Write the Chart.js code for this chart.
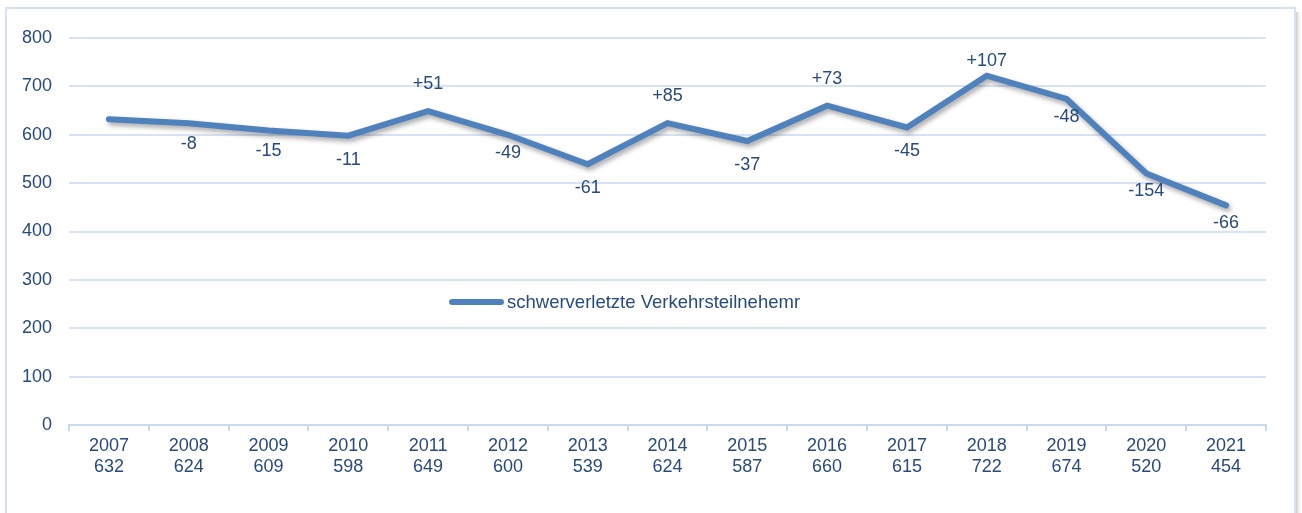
<!DOCTYPE html>
<html>
<head>
<meta charset="utf-8">
<script src="https://cdn.jsdelivr.net/npm/chart.js@4.4.0/dist/chart.umd.min.js"></script>
<style>
html,body{margin:0;padding:0;background:#fff;}
#wrap{width:1302px;height:513px;position:relative;}
</style>
</head>
<body>
<div id="wrap"><canvas id="c" width="1302" height="513"></canvas></div>
<script>
const years = ['2007','2008','2009','2010','2011','2012','2013','2014','2015','2016','2017','2018','2019','2020','2021'];
const values = [632,624,609,598,649,600,539,624,587,660,615,722,674,520,454];
const changes = ['', '-8','-15','-11','+51','-49','-61','+85','-37','+73','-45','+107','-48','-154','-66'];
const yTicks = [0,100,200,300,400,500,600,700,800];
const seriesName = 'schwerverletzte Verkehrsteilnehemr';

const TXT = '#284a7c';
const FONT = '"Liberation Sans", Arial, sans-serif';
const LINE = '#4f81bd';

const framePlugin = {
  id: 'frame',
  beforeDraw(chart) {
    const ctx = chart.ctx;
    ctx.save();
    ctx.fillStyle = '#fff';
    ctx.fillRect(0,0,chart.width,chart.height);
    const g = ctx.createLinearGradient(1295,0,1302,0);
    g.addColorStop(0,'rgba(120,120,120,0.55)');
    g.addColorStop(1,'rgba(255,255,255,0)');
    ctx.fillStyle = g;
    ctx.fillRect(1295,12,7,chart.height);
    ctx.strokeStyle = '#d5e2f3';
    ctx.lineWidth = 2;
    ctx.strokeRect(6,8,1289,520);
    ctx.restore();
  }
};

const shadowPlugin = {
  id: 'lineShadow',
  beforeDatasetDraw(chart) {
    const ctx = chart.ctx;
    ctx.save();
    ctx.shadowColor = 'rgba(0,0,0,0.35)';
    ctx.shadowBlur = 5;
    ctx.shadowOffsetX = 2;
    ctx.shadowOffsetY = 3;
  },
  afterDatasetDraw(chart) {
    chart.ctx.restore();
  }
};

const labelPlugin = {
  id: 'diffLabels',
  afterDatasetsDraw(chart) {
    const ctx = chart.ctx;
    const meta = chart.getDatasetMeta(0);
    const top = chart.chartArea.top;
    ctx.save();
    ctx.font = '18px ' + FONT;
    ctx.fillStyle = TXT;
    ctx.textAlign = 'center';
    ctx.textBaseline = 'middle';
    meta.data.forEach((pt, i) => {
      const t = changes[i];
      if (!t) return;
      const up = t.startsWith('+');
      const prev = values[i - 1], next = values[i + 1];
      let y;
      if (up) {
        y = Math.max(pt.y - 27, top + 23);
      } else {
        const valley = next !== undefined && values[i] < prev && values[i] < next;
        const steep = prev !== undefined && (prev - values[i]) > 45;
        y = pt.y + (valley ? 24 : (steep ? 18 : 21));
      }
      ctx.fillText(t, pt.x, y);
    });
    // legend
    const cx = 449, cy = 302;
    ctx.strokeStyle = LINE;
    ctx.lineWidth = 6;
    ctx.lineCap = 'round';
    ctx.beginPath();
    ctx.moveTo(cx + 3, cy);
    ctx.lineTo(cx + 52, cy);
    ctx.stroke();
    ctx.font = '18.5px ' + FONT;
    ctx.textAlign = 'left';
    ctx.fillText(seriesName, 507, cy + 1);
    ctx.restore();
  }
};

new Chart(document.getElementById('c'), {
  type: 'line',
  data: {
    labels: years.map((y, i) => [y, String(values[i])]),
    datasets: [{
      label: seriesName,
      data: values,
      borderColor: LINE,
      borderWidth: 6,
      pointRadius: 0,
      tension: 0,
      borderJoinStyle: 'miter',
      borderCapStyle: 'round',
      fill: false
    }]
  },
  options: {
    responsive: false,
    animation: false,
    devicePixelRatio: 1,
    layout: { padding: { left: 0, right: 36, top: 38, bottom: 0 } },
    plugins: {
      legend: { display: false },
      tooltip: { enabled: false }
    },
    scales: {
      x: {
        offset: true,
        grid: {
          offset: true,
          drawOnChartArea: false,
          drawTicks: true,
          tickLength: 6,
          color: '#c9daef',
          lineWidth: 2
        },
        border: { display: true, color: '#c9daef', width: 2 },
        ticks: {
          color: TXT,
          font: { family: FONT, size: 18 },
          padding: 4,
          maxRotation: 0,
          autoSkip: false
        },
        afterFit(scale) { scale.height = 513 - 425; }
      },
      y: {
        min: 0,
        max: 800,
        afterBuildTicks(scale) { scale.ticks = yTicks.map(v => ({ value: v })); },
        grid: {
          drawTicks: false,
          color: (c) => c.tick && c.tick.value === 0 ? 'rgba(0,0,0,0)' : '#d7e3f4',
          lineWidth: 2
        },
        border: { display: false },
        ticks: {
          color: TXT,
          font: { family: FONT, size: 18 },
          padding: 17
        },
        afterFit(scale) { scale.width = 69; }
      }
    }
  },
  plugins: [framePlugin, shadowPlugin, labelPlugin]
});
</script>
</body>
</html>
